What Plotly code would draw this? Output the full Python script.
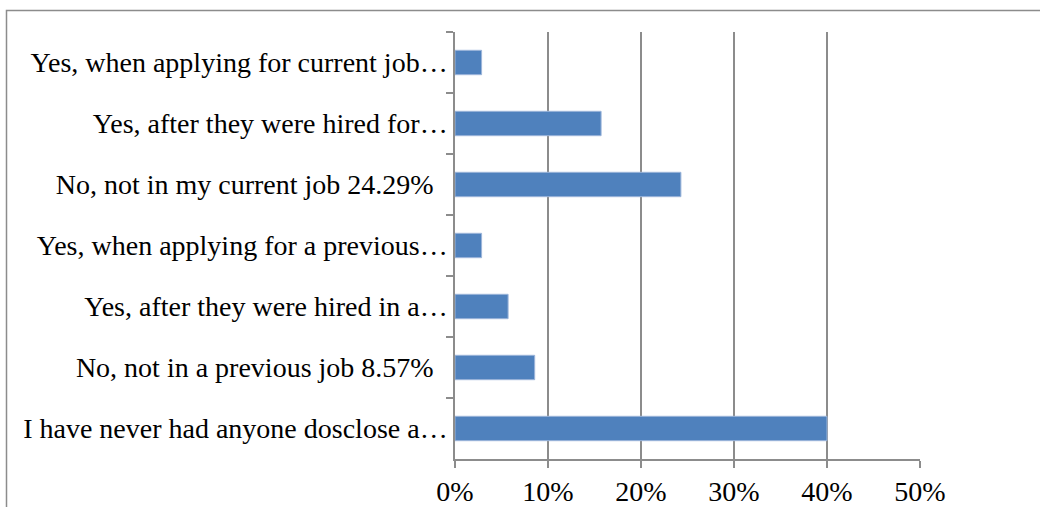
import plotly.graph_objects as go

# Survey responses, listed top to bottom as shown on the chart
categories = [
    "Yes, when applying for current job…",
    "Yes, after they were hired for…",
    "No, not in my current job 24.29%\u00a0\u00a0",
    "Yes, when applying for a previous…",
    "Yes, after they were hired in a…",
    "No, not in a previous job 8.57%\u00a0\u00a0",
    "I have never had anyone dosclose a…",
]
shares = [2.86, 15.71, 24.29, 2.86, 5.71, 8.57, 40.0]

x_tick_values = [0, 10, 20, 30, 40, 50]
x_tick_labels = ["0%", "10%", "20%", "30%", "40%", "50%"]

FONT = "Liberation Serif"
GRID = "#8c8c8c"

fig = go.Figure(
    go.Bar(
        x=shares,
        y=categories,
        orientation="h",
        marker=dict(color="#4f81bd", line=dict(color="#9db6da", width=1)),
        hoverinfo="x+y",
    )
)

W, H = 1040, 507
L, R, T, B = 455, 120, 32, 48
pw, ph = W - L - R, H - T - B

def px(x):
    return (x - L) / pw

def py(y):
    return 1 - (y - T) / ph

fig.update_layout(
    width=W,
    height=H,
    margin=dict(l=L, r=R, t=T, b=B),
    paper_bgcolor="white",
    plot_bgcolor="white",
    bargap=0.6,
    showlegend=False,
    font=dict(family=FONT, color="black", size=24),
    xaxis=dict(
        range=[0, 50],
        tickvals=x_tick_values,
        ticktext=x_tick_labels,
        showgrid=True,
        gridcolor=GRID,
        gridwidth=1.5,
        ticks="outside",
        ticklen=7,
        tickcolor=GRID,
        tickwidth=1.5,
        showline=True,
        linecolor=GRID,
        linewidth=1.5,
        zeroline=False,
        tickfont=dict(size=28),
        automargin=False,
        fixedrange=True,
    ),
    yaxis=dict(
        autorange="reversed",
        showgrid=False,
        ticks="outside",
        tickson="boundaries",
        ticklen=7,
        tickcolor=GRID,
        tickwidth=1.5,
        showline=True,
        linecolor=GRID,
        linewidth=1.5,
        tickfont=dict(size=28),
        automargin=False,
        fixedrange=True,
    ),
    shapes=[
        dict(
            type="rect",
            xref="paper",
            yref="paper",
            x0=px(6.5),
            x1=px(1050),
            y0=py(530),
            y1=py(10.5),
            line=dict(color="#8c8c8c", width=1.5),
            fillcolor="rgba(0,0,0,0)",
            layer="below",
        )
    ],
)

fig.write_html("out.html")
